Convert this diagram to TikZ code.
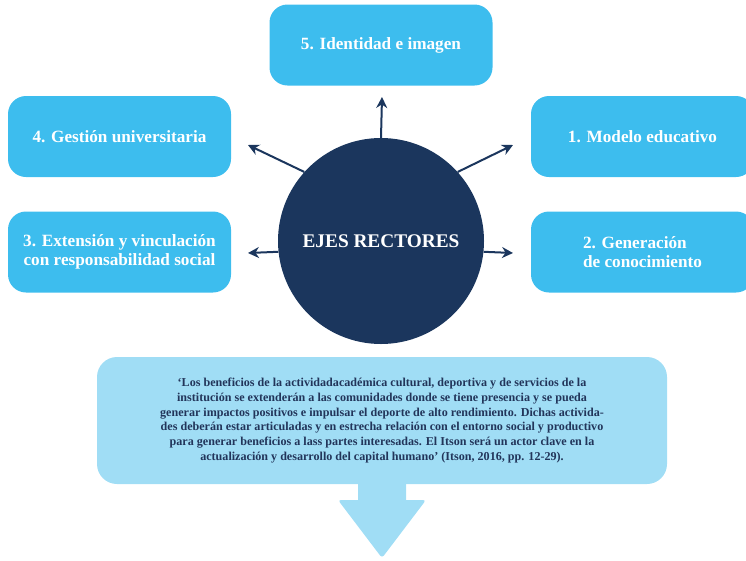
\documentclass[tikz,border=0pt]{standalone}
\usepackage{fontspec}
\setmainfont{Liberation Serif}
\usetikzlibrary{arrows.meta}
\definecolor{ejeazul}{HTML}{3DBDEE}
\definecolor{ejemarino}{HTML}{1B365D}
\definecolor{ejeclaro}{HTML}{A0DDF5}
\definecolor{ejetexto}{HTML}{22355A}
\begin{document}
\begin{tikzpicture}[x=1pt,y=-1pt]
                        \tikzstyle{eje}=[fill=ejeazul, rounded corners=18pt, minimum width=223pt, minimum height=81pt, inner sep=0pt, text=white, align=center, font=\bfseries\fontsize{17.2}{19}\selectfont]
                        \tikzstyle{flecha}=[draw=ejemarino, line width=2pt, -{Stealth[length=11pt,width=11pt]}]
                        \clip (0,0) rectangle (746,560);
                        % ejes
                        \node[eje] (identidad) at (381,45) {5. Identidad e imagen};
                        \node[eje] (gestion) at (119.5,136.5) {4. Gestión universitaria};
                        \node[eje] (modelo) at (642.5,136.5) {1. Modelo educativo};
                        \node[eje] (extension) at (119.5,252) {3. Extensión y vinculación\\con responsabilidad social};
                        \node[eje, align=left] (generacion) at (642.5,252) {2. Generación\\de conocimiento};
                        % centro
                        \node[circle, fill=ejemarino, minimum size=206pt, inner sep=0pt, text=white, font=\bfseries\fontsize{19.3}{22}\selectfont] (rectores) at (381,241) {EJES RECTORES};
                        \coordinate (a5) at (382,97);
                        \coordinate (a4) at (248,145);
                        \coordinate (a1) at (513,145);
                        \coordinate (a3) at (248,253);
                        \coordinate (a2) at (513,253);
                        \draw[flecha] (rectores.90) -- (a5);
                        \draw[flecha] (rectores.138.5) -- (a4);
                        \draw[flecha] (rectores.42.7) -- (a1);
                        \draw[flecha] (rectores.186.7) -- (a3);
                        \draw[flecha] (rectores.-6.7) -- (a2);
                        % cita
                        \fill[ejeclaro] (358,470) -- (358,500) [rounded corners=3pt] -- (338,500) -- (382,558) -- (426,500) [sharp corners] -- (406,500) -- (406,470) -- cycle;
                        \node[fill=ejeclaro, rounded corners=20pt, minimum width=570pt, minimum height=127pt, inner sep=0pt, text=ejetexto, align=center, font=\bfseries\fontsize{12.1}{14.8}\selectfont] (cita) at (382,420.5) {‘Los beneficios de la actividadacadémica cultural, deportiva y de servicios de la\\institución se extenderán a las comunidades donde se tiene presencia y se pueda\\generar impactos positivos e impulsar el deporte de alto rendimiento. Dichas activida-\\des deberán estar articuladas y en estrecha relación con el entorno social y productivo\\para generar beneficios a lass partes interesadas. El Itson será un actor clave en la\\actualización y desarrollo del capital humano’ (Itson, 2016, pp. 12-29).};
                    \end{tikzpicture}
\end{document}
